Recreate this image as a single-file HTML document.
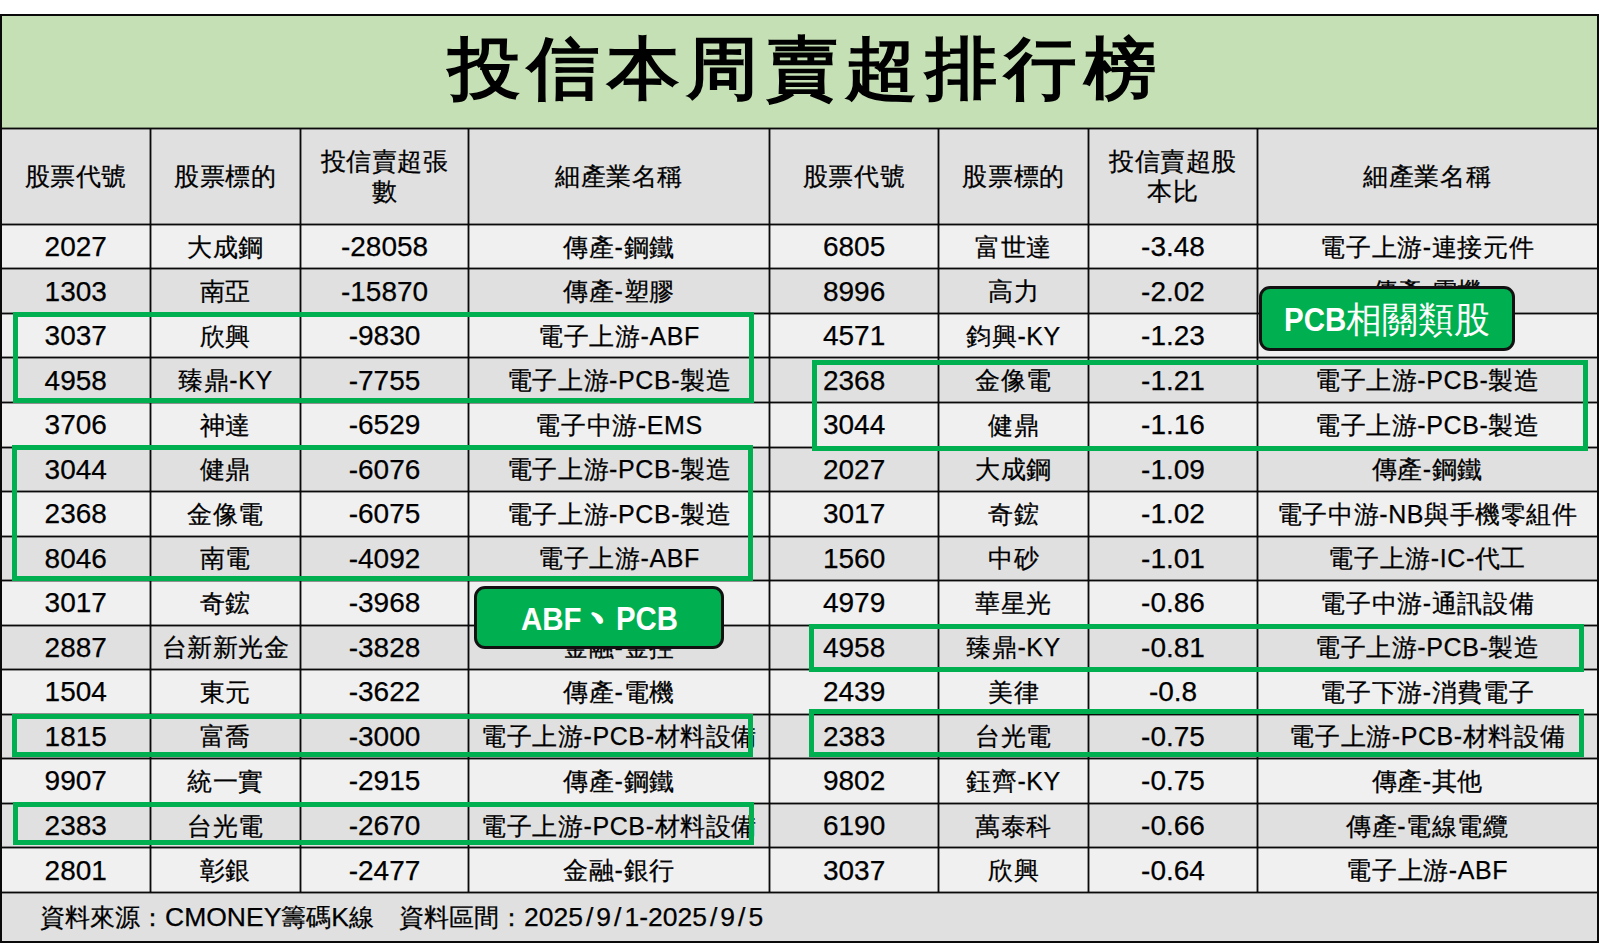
<!DOCTYPE html>
<html lang="zh-Hant"><head><meta charset="utf-8"><title>投信本周賣超排行榜</title>
<style>
html,body{margin:0;padding:0;background:#fff;}
body{width:1600px;height:948px;position:relative;overflow:hidden;font-family:"Liberation Sans",sans-serif;color:#000;}
.bg{position:absolute;}
.hl{position:absolute;height:1px;background:#0a0a0a;box-shadow:0 1px 0 rgba(0,0,0,.4),0 -1px 0 rgba(0,0,0,.4);}
.vl{position:absolute;width:1px;background:#0a0a0a;box-shadow:1px 0 0 rgba(0,0,0,.4),-1px 0 0 rgba(0,0,0,.4);}
.c{position:absolute;-webkit-text-stroke:0.25px #000;letter-spacing:0.6px;display:flex;align-items:center;justify-content:center;white-space:nowrap;font-size:25px;line-height:30px;text-align:center;}
.n{font-size:28px;letter-spacing:0;padding-top:1px;box-sizing:border-box;}
.ft{font-size:26.5px;}
.ft s{text-decoration:none;margin:0 3px;}
.box{position:absolute;box-sizing:border-box;border:5px solid #00b050;}
.call{position:absolute;box-sizing:border-box;border:3.75px solid #111;border-radius:11px;background:#00b050;color:#fff;display:flex;align-items:center;justify-content:center;white-space:nowrap;}
</style></head><body>

<div class="bg" style="left:1px;top:15px;width:1596px;height:113.4px;background:#c5e0b4"></div>
<div class="bg" style="left:1px;top:128.4px;width:1596px;height:96.0px;background:#e0e0e0"></div>
<div class="bg" style="left:1px;top:224.40px;width:1596px;height:44.53px;background:#f0f0f0"></div>
<div class="bg" style="left:1px;top:268.93px;width:1596px;height:44.53px;background:#e0e0e0"></div>
<div class="bg" style="left:1px;top:313.45px;width:1596px;height:44.53px;background:#f0f0f0"></div>
<div class="bg" style="left:1px;top:357.98px;width:1596px;height:44.53px;background:#e0e0e0"></div>
<div class="bg" style="left:1px;top:402.51px;width:1596px;height:44.53px;background:#f0f0f0"></div>
<div class="bg" style="left:1px;top:447.03px;width:1596px;height:44.53px;background:#e0e0e0"></div>
<div class="bg" style="left:1px;top:491.56px;width:1596px;height:44.53px;background:#f0f0f0"></div>
<div class="bg" style="left:1px;top:536.09px;width:1596px;height:44.53px;background:#e0e0e0"></div>
<div class="bg" style="left:1px;top:580.61px;width:1596px;height:44.53px;background:#f0f0f0"></div>
<div class="bg" style="left:1px;top:625.14px;width:1596px;height:44.53px;background:#e0e0e0"></div>
<div class="bg" style="left:1px;top:669.67px;width:1596px;height:44.53px;background:#f0f0f0"></div>
<div class="bg" style="left:1px;top:714.19px;width:1596px;height:44.53px;background:#e0e0e0"></div>
<div class="bg" style="left:1px;top:758.72px;width:1596px;height:44.53px;background:#f0f0f0"></div>
<div class="bg" style="left:1px;top:803.25px;width:1596px;height:44.53px;background:#e0e0e0"></div>
<div class="bg" style="left:1px;top:847.77px;width:1596px;height:44.53px;background:#f0f0f0"></div>
<div class="bg" style="left:1px;top:892.3px;width:1596px;height:49.200000000000045px;background:#e0e0e0"></div>
<div style="position:absolute;left:447.6px;top:18.1px;height:100px;white-space:nowrap;font-size:72px;line-height:100px;font-weight:bold;letter-spacing:7.5px;transform:scaleY(0.94);">投信本周賣超排行榜</div>
<div class="c" style="left:1px;top:128.4px;width:149.5px;height:96.0px;">股票代號</div>
<div class="c" style="left:150.5px;top:128.4px;width:150.0px;height:96.0px;">股票標的</div>
<div class="c" style="left:300.5px;top:128.4px;width:168.0px;height:96.0px;">投信賣超張<br>數</div>
<div class="c" style="left:468.5px;top:128.4px;width:301.1px;height:96.0px;">細產業名稱</div>
<div class="c" style="left:769.6px;top:128.4px;width:169.0px;height:96.0px;">股票代號</div>
<div class="c" style="left:938.6px;top:128.4px;width:149.89999999999998px;height:96.0px;">股票標的</div>
<div class="c" style="left:1088.5px;top:128.4px;width:169.0px;height:96.0px;">投信賣超股<br>本比</div>
<div class="c" style="left:1257.5px;top:128.4px;width:339.5px;height:96.0px;">細產業名稱</div>
<div class="c n" style="left:1px;top:224.40px;width:149.5px;height:44.53px;">2027</div>
<div class="c" style="left:150.5px;top:224.40px;width:150.0px;height:44.53px;">大成鋼</div>
<div class="c n" style="left:300.5px;top:224.40px;width:168.0px;height:44.53px;">-28058</div>
<div class="c" style="left:468.5px;top:224.40px;width:301.1px;height:44.53px;">傳產-鋼鐵</div>
<div class="c n" style="left:769.6px;top:224.40px;width:169.0px;height:44.53px;">6805</div>
<div class="c" style="left:938.6px;top:224.40px;width:149.89999999999998px;height:44.53px;">富世達</div>
<div class="c n" style="left:1088.5px;top:224.40px;width:169.0px;height:44.53px;">-3.48</div>
<div class="c" style="left:1257.5px;top:224.40px;width:339.5px;height:44.53px;">電子上游-連接元件</div>
<div class="c n" style="left:1px;top:268.93px;width:149.5px;height:44.53px;">1303</div>
<div class="c" style="left:150.5px;top:268.93px;width:150.0px;height:44.53px;">南亞</div>
<div class="c n" style="left:300.5px;top:268.93px;width:168.0px;height:44.53px;">-15870</div>
<div class="c" style="left:468.5px;top:268.93px;width:301.1px;height:44.53px;">傳產-塑膠</div>
<div class="c n" style="left:769.6px;top:268.93px;width:169.0px;height:44.53px;">8996</div>
<div class="c" style="left:938.6px;top:268.93px;width:149.89999999999998px;height:44.53px;">高力</div>
<div class="c n" style="left:1088.5px;top:268.93px;width:169.0px;height:44.53px;">-2.02</div>
<div class="c" style="left:1257.5px;top:268.93px;width:339.5px;height:44.53px;">傳產-電機</div>
<div class="c n" style="left:1px;top:313.45px;width:149.5px;height:44.53px;">3037</div>
<div class="c" style="left:150.5px;top:313.45px;width:150.0px;height:44.53px;">欣興</div>
<div class="c n" style="left:300.5px;top:313.45px;width:168.0px;height:44.53px;">-9830</div>
<div class="c" style="left:468.5px;top:313.45px;width:301.1px;height:44.53px;">電子上游-ABF</div>
<div class="c n" style="left:769.6px;top:313.45px;width:169.0px;height:44.53px;">4571</div>
<div class="c" style="left:938.6px;top:313.45px;width:149.89999999999998px;height:44.53px;">鈞興-KY</div>
<div class="c n" style="left:1088.5px;top:313.45px;width:169.0px;height:44.53px;">-1.23</div>
<div class="c" style="left:1257.5px;top:313.45px;width:339.5px;height:44.53px;">傳產-其他</div>
<div class="c n" style="left:1px;top:357.98px;width:149.5px;height:44.53px;">4958</div>
<div class="c" style="left:150.5px;top:357.98px;width:150.0px;height:44.53px;">臻鼎-KY</div>
<div class="c n" style="left:300.5px;top:357.98px;width:168.0px;height:44.53px;">-7755</div>
<div class="c" style="left:468.5px;top:357.98px;width:301.1px;height:44.53px;">電子上游-PCB-製造</div>
<div class="c n" style="left:769.6px;top:357.98px;width:169.0px;height:44.53px;">2368</div>
<div class="c" style="left:938.6px;top:357.98px;width:149.89999999999998px;height:44.53px;">金像電</div>
<div class="c n" style="left:1088.5px;top:357.98px;width:169.0px;height:44.53px;">-1.21</div>
<div class="c" style="left:1257.5px;top:357.98px;width:339.5px;height:44.53px;">電子上游-PCB-製造</div>
<div class="c n" style="left:1px;top:402.51px;width:149.5px;height:44.53px;">3706</div>
<div class="c" style="left:150.5px;top:402.51px;width:150.0px;height:44.53px;">神達</div>
<div class="c n" style="left:300.5px;top:402.51px;width:168.0px;height:44.53px;">-6529</div>
<div class="c" style="left:468.5px;top:402.51px;width:301.1px;height:44.53px;">電子中游-EMS</div>
<div class="c n" style="left:769.6px;top:402.51px;width:169.0px;height:44.53px;">3044</div>
<div class="c" style="left:938.6px;top:402.51px;width:149.89999999999998px;height:44.53px;">健鼎</div>
<div class="c n" style="left:1088.5px;top:402.51px;width:169.0px;height:44.53px;">-1.16</div>
<div class="c" style="left:1257.5px;top:402.51px;width:339.5px;height:44.53px;">電子上游-PCB-製造</div>
<div class="c n" style="left:1px;top:447.03px;width:149.5px;height:44.53px;">3044</div>
<div class="c" style="left:150.5px;top:447.03px;width:150.0px;height:44.53px;">健鼎</div>
<div class="c n" style="left:300.5px;top:447.03px;width:168.0px;height:44.53px;">-6076</div>
<div class="c" style="left:468.5px;top:447.03px;width:301.1px;height:44.53px;">電子上游-PCB-製造</div>
<div class="c n" style="left:769.6px;top:447.03px;width:169.0px;height:44.53px;">2027</div>
<div class="c" style="left:938.6px;top:447.03px;width:149.89999999999998px;height:44.53px;">大成鋼</div>
<div class="c n" style="left:1088.5px;top:447.03px;width:169.0px;height:44.53px;">-1.09</div>
<div class="c" style="left:1257.5px;top:447.03px;width:339.5px;height:44.53px;">傳產-鋼鐵</div>
<div class="c n" style="left:1px;top:491.56px;width:149.5px;height:44.53px;">2368</div>
<div class="c" style="left:150.5px;top:491.56px;width:150.0px;height:44.53px;">金像電</div>
<div class="c n" style="left:300.5px;top:491.56px;width:168.0px;height:44.53px;">-6075</div>
<div class="c" style="left:468.5px;top:491.56px;width:301.1px;height:44.53px;">電子上游-PCB-製造</div>
<div class="c n" style="left:769.6px;top:491.56px;width:169.0px;height:44.53px;">3017</div>
<div class="c" style="left:938.6px;top:491.56px;width:149.89999999999998px;height:44.53px;">奇鋐</div>
<div class="c n" style="left:1088.5px;top:491.56px;width:169.0px;height:44.53px;">-1.02</div>
<div class="c" style="left:1257.5px;top:491.56px;width:339.5px;height:44.53px;">電子中游-NB與手機零組件</div>
<div class="c n" style="left:1px;top:536.09px;width:149.5px;height:44.53px;">8046</div>
<div class="c" style="left:150.5px;top:536.09px;width:150.0px;height:44.53px;">南電</div>
<div class="c n" style="left:300.5px;top:536.09px;width:168.0px;height:44.53px;">-4092</div>
<div class="c" style="left:468.5px;top:536.09px;width:301.1px;height:44.53px;">電子上游-ABF</div>
<div class="c n" style="left:769.6px;top:536.09px;width:169.0px;height:44.53px;">1560</div>
<div class="c" style="left:938.6px;top:536.09px;width:149.89999999999998px;height:44.53px;">中砂</div>
<div class="c n" style="left:1088.5px;top:536.09px;width:169.0px;height:44.53px;">-1.01</div>
<div class="c" style="left:1257.5px;top:536.09px;width:339.5px;height:44.53px;">電子上游-IC-代工</div>
<div class="c n" style="left:1px;top:580.61px;width:149.5px;height:44.53px;">3017</div>
<div class="c" style="left:150.5px;top:580.61px;width:150.0px;height:44.53px;">奇鋐</div>
<div class="c n" style="left:300.5px;top:580.61px;width:168.0px;height:44.53px;">-3968</div>
<div class="c" style="left:468.5px;top:580.61px;width:301.1px;height:44.53px;">電子中游-散熱</div>
<div class="c n" style="left:769.6px;top:580.61px;width:169.0px;height:44.53px;">4979</div>
<div class="c" style="left:938.6px;top:580.61px;width:149.89999999999998px;height:44.53px;">華星光</div>
<div class="c n" style="left:1088.5px;top:580.61px;width:169.0px;height:44.53px;">-0.86</div>
<div class="c" style="left:1257.5px;top:580.61px;width:339.5px;height:44.53px;">電子中游-通訊設備</div>
<div class="c n" style="left:1px;top:625.14px;width:149.5px;height:44.53px;">2887</div>
<div class="c" style="left:150.5px;top:625.14px;width:150.0px;height:44.53px;">台新新光金</div>
<div class="c n" style="left:300.5px;top:625.14px;width:168.0px;height:44.53px;">-3828</div>
<div class="c" style="left:468.5px;top:625.14px;width:301.1px;height:44.53px;">金融-金控</div>
<div class="c n" style="left:769.6px;top:625.14px;width:169.0px;height:44.53px;">4958</div>
<div class="c" style="left:938.6px;top:625.14px;width:149.89999999999998px;height:44.53px;">臻鼎-KY</div>
<div class="c n" style="left:1088.5px;top:625.14px;width:169.0px;height:44.53px;">-0.81</div>
<div class="c" style="left:1257.5px;top:625.14px;width:339.5px;height:44.53px;">電子上游-PCB-製造</div>
<div class="c n" style="left:1px;top:669.67px;width:149.5px;height:44.53px;">1504</div>
<div class="c" style="left:150.5px;top:669.67px;width:150.0px;height:44.53px;">東元</div>
<div class="c n" style="left:300.5px;top:669.67px;width:168.0px;height:44.53px;">-3622</div>
<div class="c" style="left:468.5px;top:669.67px;width:301.1px;height:44.53px;">傳產-電機</div>
<div class="c n" style="left:769.6px;top:669.67px;width:169.0px;height:44.53px;">2439</div>
<div class="c" style="left:938.6px;top:669.67px;width:149.89999999999998px;height:44.53px;">美律</div>
<div class="c n" style="left:1088.5px;top:669.67px;width:169.0px;height:44.53px;">-0.8</div>
<div class="c" style="left:1257.5px;top:669.67px;width:339.5px;height:44.53px;">電子下游-消費電子</div>
<div class="c n" style="left:1px;top:714.19px;width:149.5px;height:44.53px;">1815</div>
<div class="c" style="left:150.5px;top:714.19px;width:150.0px;height:44.53px;">富喬</div>
<div class="c n" style="left:300.5px;top:714.19px;width:168.0px;height:44.53px;">-3000</div>
<div class="c" style="left:468.5px;top:714.19px;width:301.1px;height:44.53px;">電子上游-PCB-材料設備</div>
<div class="c n" style="left:769.6px;top:714.19px;width:169.0px;height:44.53px;">2383</div>
<div class="c" style="left:938.6px;top:714.19px;width:149.89999999999998px;height:44.53px;">台光電</div>
<div class="c n" style="left:1088.5px;top:714.19px;width:169.0px;height:44.53px;">-0.75</div>
<div class="c" style="left:1257.5px;top:714.19px;width:339.5px;height:44.53px;">電子上游-PCB-材料設備</div>
<div class="c n" style="left:1px;top:758.72px;width:149.5px;height:44.53px;">9907</div>
<div class="c" style="left:150.5px;top:758.72px;width:150.0px;height:44.53px;">統一實</div>
<div class="c n" style="left:300.5px;top:758.72px;width:168.0px;height:44.53px;">-2915</div>
<div class="c" style="left:468.5px;top:758.72px;width:301.1px;height:44.53px;">傳產-鋼鐵</div>
<div class="c n" style="left:769.6px;top:758.72px;width:169.0px;height:44.53px;">9802</div>
<div class="c" style="left:938.6px;top:758.72px;width:149.89999999999998px;height:44.53px;">鈺齊-KY</div>
<div class="c n" style="left:1088.5px;top:758.72px;width:169.0px;height:44.53px;">-0.75</div>
<div class="c" style="left:1257.5px;top:758.72px;width:339.5px;height:44.53px;">傳產-其他</div>
<div class="c n" style="left:1px;top:803.25px;width:149.5px;height:44.53px;">2383</div>
<div class="c" style="left:150.5px;top:803.25px;width:150.0px;height:44.53px;">台光電</div>
<div class="c n" style="left:300.5px;top:803.25px;width:168.0px;height:44.53px;">-2670</div>
<div class="c" style="left:468.5px;top:803.25px;width:301.1px;height:44.53px;">電子上游-PCB-材料設備</div>
<div class="c n" style="left:769.6px;top:803.25px;width:169.0px;height:44.53px;">6190</div>
<div class="c" style="left:938.6px;top:803.25px;width:149.89999999999998px;height:44.53px;">萬泰科</div>
<div class="c n" style="left:1088.5px;top:803.25px;width:169.0px;height:44.53px;">-0.66</div>
<div class="c" style="left:1257.5px;top:803.25px;width:339.5px;height:44.53px;">傳產-電線電纜</div>
<div class="c n" style="left:1px;top:847.77px;width:149.5px;height:44.53px;">2801</div>
<div class="c" style="left:150.5px;top:847.77px;width:150.0px;height:44.53px;">彰銀</div>
<div class="c n" style="left:300.5px;top:847.77px;width:168.0px;height:44.53px;">-2477</div>
<div class="c" style="left:468.5px;top:847.77px;width:301.1px;height:44.53px;">金融-銀行</div>
<div class="c n" style="left:769.6px;top:847.77px;width:169.0px;height:44.53px;">3037</div>
<div class="c" style="left:938.6px;top:847.77px;width:149.89999999999998px;height:44.53px;">欣興</div>
<div class="c n" style="left:1088.5px;top:847.77px;width:169.0px;height:44.53px;">-0.64</div>
<div class="c" style="left:1257.5px;top:847.77px;width:339.5px;height:44.53px;">電子上游-ABF</div>
<div class="c" style="left:40px;top:892.3px;height:49.200000000000045px;justify-content:flex-start;letter-spacing:0;">資料來源：<span class="ft">CMONEY</span>籌碼<span class="ft">K</span>線　資料區間：<span class="ft">2025<s>/</s>9<s>/</s>1-2025<s>/</s>9<s>/</s>5</span></div>
<div class="hl" style="left:1px;top:128px;width:1596px"></div>
<div class="hl" style="left:1px;top:224px;width:1596px"></div>
<div class="hl" style="left:1px;top:268px;width:1596px"></div>
<div class="hl" style="left:1px;top:313px;width:1596px"></div>
<div class="hl" style="left:1px;top:357px;width:1596px"></div>
<div class="hl" style="left:1px;top:402px;width:1596px"></div>
<div class="hl" style="left:1px;top:447px;width:1596px"></div>
<div class="hl" style="left:1px;top:491px;width:1596px"></div>
<div class="hl" style="left:1px;top:536px;width:1596px"></div>
<div class="hl" style="left:1px;top:580px;width:1596px"></div>
<div class="hl" style="left:1px;top:625px;width:1596px"></div>
<div class="hl" style="left:1px;top:669px;width:1596px"></div>
<div class="hl" style="left:1px;top:714px;width:1596px"></div>
<div class="hl" style="left:1px;top:758px;width:1596px"></div>
<div class="hl" style="left:1px;top:803px;width:1596px"></div>
<div class="hl" style="left:1px;top:847px;width:1596px"></div>
<div class="hl" style="left:1px;top:892px;width:1596px"></div>
<div class="vl" style="left:150px;top:128px;height:764px"></div>
<div class="vl" style="left:300px;top:128px;height:764px"></div>
<div class="vl" style="left:468px;top:128px;height:764px"></div>
<div class="vl" style="left:769px;top:128px;height:764px"></div>
<div class="vl" style="left:938px;top:128px;height:764px"></div>
<div class="vl" style="left:1088px;top:128px;height:764px"></div>
<div class="vl" style="left:1257px;top:128px;height:764px"></div>
<div class="bg" style="left:0px;top:14px;width:1599px;height:929px;box-sizing:border-box;border:2px solid #0a0a0a"></div>
<div class="box" style="left:13px;top:312px;width:741px;height:90.5px"></div>
<div class="box" style="left:12px;top:445px;width:741px;height:136px"></div>
<div class="box" style="left:12px;top:714px;width:741px;height:43px"></div>
<div class="box" style="left:13px;top:801.5px;width:741px;height:43.5px"></div>
<div class="box" style="left:812px;top:360px;width:776px;height:91px"></div>
<div class="box" style="left:809px;top:624px;width:775px;height:48px"></div>
<div class="box" style="left:809px;top:709px;width:775px;height:48px"></div>
<div class="call" style="left:474px;top:586px;width:250px;height:63px;"></div>
<div style="position:absolute;left:521.4px;top:599.5px;font-size:31px;line-height:40px;font-weight:bold;color:#fff;transform:scaleX(0.95);transform-origin:0 50%;white-space:nowrap">ABF</div>
<div style="position:absolute;left:588px;top:576px;font-size:46px;line-height:50px;font-weight:bold;color:#fff;-webkit-text-stroke:1px #fff;white-space:nowrap">、</div>
<div style="position:absolute;left:616px;top:599px;font-size:33px;line-height:40px;font-weight:bold;color:#fff;transform:scaleX(0.89);transform-origin:0 50%;white-space:nowrap">PCB</div>
<div class="call" style="left:1258.5px;top:286px;width:256px;height:64.5px;"></div>
<div style="position:absolute;left:1284px;top:299.5px;font-size:33.5px;line-height:40px;font-weight:bold;color:#fff;transform:scaleX(0.88);transform-origin:0 50%;white-space:nowrap">PCB</div>
<div style="position:absolute;left:1346px;top:299.7px;font-size:36px;line-height:40px;color:#fff;white-space:nowrap">相關類股</div>
</body></html>
